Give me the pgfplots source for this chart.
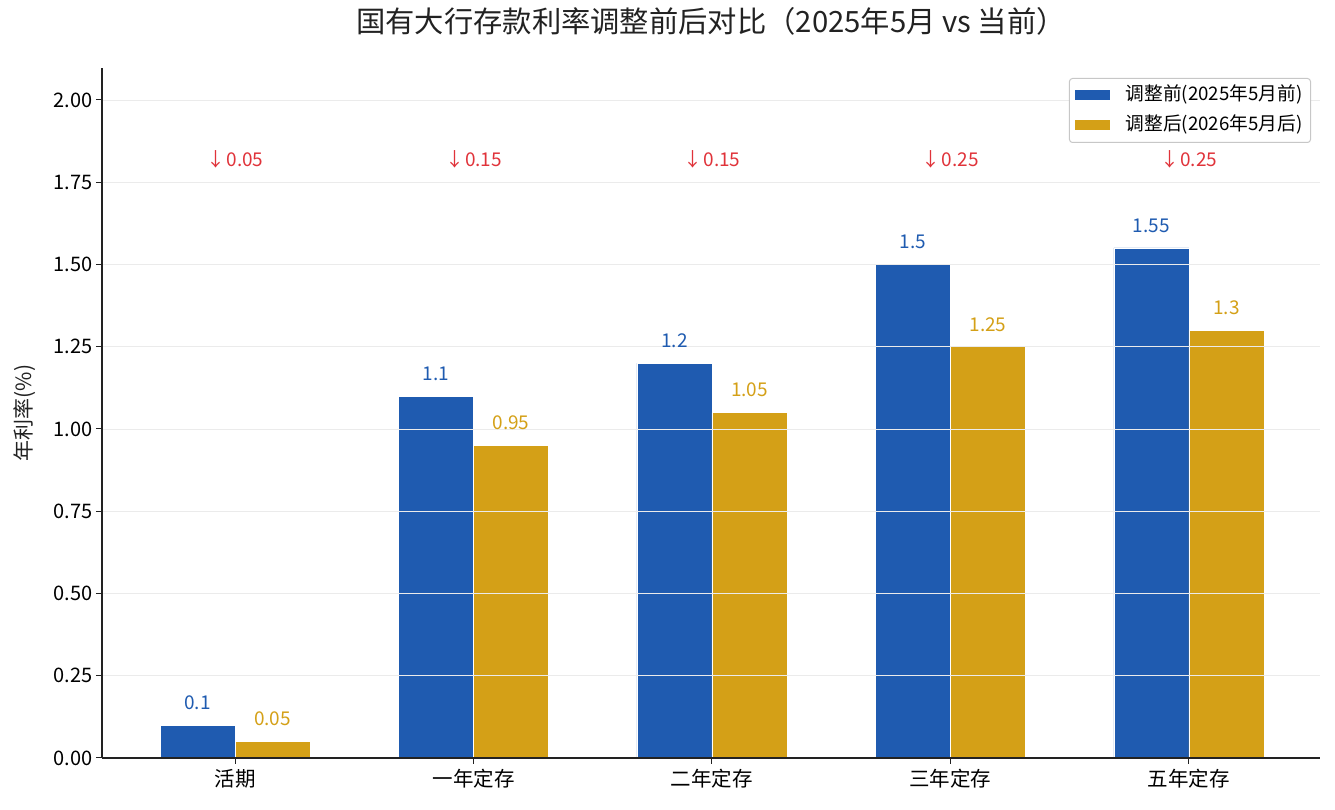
\documentclass[border=0pt]{standalone}
\usepackage{fontspec}
\setmainfont{Noto Sans CJK SC}
\usepackage{pgfplots}
\pgfplotsset{compat=1.18}
\definecolor{cblue}{HTML}{1F5BB0}
\definecolor{cgold}{HTML}{D4A017}
\definecolor{cred}{HTML}{E0333A}
\definecolor{caxis}{HTML}{222222}
\begin{document}
\begin{tikzpicture}
\useasboundingbox (-102pt,-52pt) rectangle (1233pt,758pt);
\begin{axis}[
  scale only axis, width=1218pt, height=690pt,
  xmin=-0.558, xmax=4.55, ymin=0, ymax=2.097,
  axis x line*=bottom, axis y line*=left,
  axis line style={line width=1.2pt, color=caxis},
  every tick/.style={line width=1pt, color=caxis},
  tick align=outside, major tick length=6pt,
  /pgf/number format/assume math mode=true,
  xtick={0,1,2,3,4},
  xticklabels={活期,一年定存,二年定存,三年定存,五年定存},
  ytick={0,0.25,0.5,0.75,1,1.25,1.5,1.75,2},
  yticklabel style={/pgf/number format/.cd, fixed, fixed zerofill, precision=2},
  ticklabel style={font=\fontsize{20}{22}\selectfont, text=black},
  xticklabel style={font=\fontsize{20.5}{22}\selectfont, yshift=-2pt},
  ymajorgrids, grid style={color=black!8, line width=0.8pt},
  axis on top,
  clip=false,
  title={国有大行存款利率调整前后对比（2025年5月 vs 当前）},
  title style={at={(0.5,1)}, anchor=center, yshift=41pt, font=\fontsize{29.3}{32}\selectfont, text=caxis},
  ylabel={年利率(\%)},
  ylabel style={at={(axis description cs:-0.0632,0.5)}, anchor=center, font=\fontsize{21}{23}\selectfont, text=caxis},
  legend style={at={(1,1)}, anchor=north east, xshift=-9pt, yshift=-10pt,
    draw=black!22, line width=1pt, rounded corners=3pt, fill=white,
    font=\fontsize{18.7}{20}\selectfont, inner xsep=6pt, inner ysep=6pt,
    row sep=8pt, nodes={inner sep=2pt, text height=14pt, text depth=4pt}},
  legend cell align=left,
  legend image code/.code={\fill[#1,draw=none,sharp corners] (0pt,-5pt) rectangle (35pt,5pt); \path (48pt,0pt);},
]
\addplot[ybar, bar width=75pt, bar shift=-37.5pt, fill=cblue, draw=white, line width=0.6pt,
  nodes near coords, point meta=explicit symbolic,
  every node near coord/.style={text=cblue, font=\fontsize{19}{21}\selectfont, anchor=south, inner sep=0pt, xshift=-37.5pt, yshift=15pt}]
  table[x=x, y=y, meta=l]{
x y l
0 0.10 0.1
1 1.10 1.1
2 1.20 1.2
3 1.50 1.5
4 1.55 1.55
};
\addlegendentry{调整前(2025年5月前)}
\addplot[ybar, bar width=75pt, bar shift=37.5pt, fill=cgold, draw=white, line width=0.6pt,
  nodes near coords, point meta=explicit symbolic,
  every node near coord/.style={text=cgold, font=\fontsize{19}{21}\selectfont, anchor=south, inner sep=0pt, xshift=37.5pt, yshift=15pt}]
  table[x=x, y=y, meta=l]{
x y l
0 0.05 0.05
1 0.95 0.95
2 1.05 1.05
3 1.25 1.25
4 1.30 1.3
};
\addlegendentry{调整后(2026年5月后)}
\addplot[draw=none, mark=none, forget plot,
  nodes near coords, point meta=explicit symbolic,
  every node near coord/.style={text=cred, font=\fontsize{19}{21}\selectfont, anchor=center, inner sep=0pt}]
  table[x=x, y=y, meta=l]{
x y l
0 1.82 {↓\kern1pt0.05}
1 1.82 {↓\kern1pt0.15}
2 1.82 {↓\kern1pt0.15}
3 1.82 {↓\kern1pt0.25}
4 1.82 {↓\kern1pt0.25}
};
\end{axis}
\end{tikzpicture}
\end{document}
